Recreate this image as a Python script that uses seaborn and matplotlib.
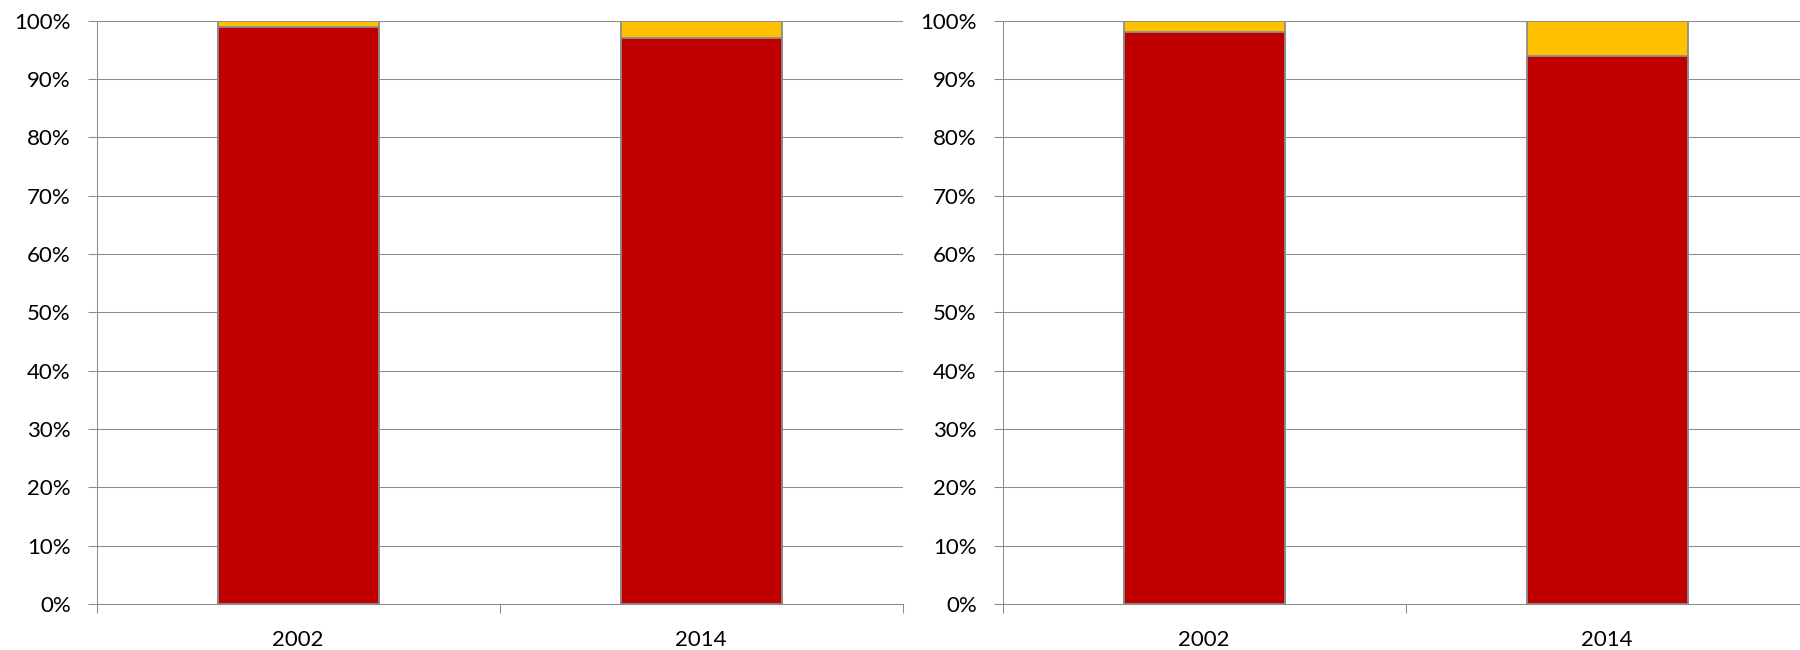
import matplotlib
matplotlib.use("Agg")
import matplotlib.pyplot as plt
import seaborn as sns
import pandas as pd
from matplotlib.ticker import FuncFormatter, FixedLocator

years = ["2002", "2014"]
left_red = [99, 97]
right_red = [98, 94]
total = [100, 100]
yticks = list(range(0, 101, 10))

RED = "#C00000"
YELLOW = "#FFC000"
EDGE = "#8C8C8C"
GRID = "#8C8C8C"

sns.set_theme(style="white")
plt.rcParams["font.family"] = ["Lato", "DejaVu Sans"]

fig = plt.figure(figsize=(18, 6.5), dpi=100)
W, H = 1800, 650
ax_w = 806
positions = [96.7, 1002.7]
top, bottom = 20.7, 604

def draw(ax, red):
    df = pd.DataFrame({"year": years, "total": total, "red": red})
    sns.barplot(data=df, x="year", y="total", color=YELLOW, width=0.4,
                edgecolor=EDGE, linewidth=1.3, saturation=1, ax=ax, zorder=3)
    sns.barplot(data=df, x="year", y="red", color=RED, width=0.4,
                edgecolor=EDGE, linewidth=1.3, saturation=1, ax=ax, zorder=4)
    ax.set_xlim(-0.5, 1.5)
    ax.set_ylim(0, 100)
    ax.yaxis.set_major_locator(FixedLocator(yticks))
    ax.yaxis.set_major_formatter(FuncFormatter(lambda v, p: f"{int(v)}%"))
    ax.grid(axis="y", color=GRID, linewidth=0.75, zorder=0)
    ax.set_axisbelow(True)
    for s in ["top", "right"]:
        ax.spines[s].set_visible(False)
    for s in ["left", "bottom"]:
        ax.spines[s].set_color(GRID)
        ax.spines[s].set_linewidth(0.75)
    ax.set_xlabel("")
    ax.set_ylabel("")
    ax.tick_params(axis="y", which="major", left=True, length=6.5, width=0.75,
                   color=GRID, labelsize=16, pad=12.2, labelcolor="black")
    ax.tick_params(axis="x", which="major", bottom=False, length=0,
                   labelsize=16, pad=19, labelcolor="black")
    ax.set_xticks([-0.5, 0.5, 1.5], minor=True)
    ax.tick_params(axis="x", which="minor", bottom=True, length=6.5, width=0.75,
                   color=GRID)

for x0, red in zip(positions, [left_red, right_red]):
    ax = fig.add_axes([x0 / W, 1 - bottom / H, ax_w / W, (bottom - top) / H])
    draw(ax, red)

fig.savefig("out.png", dpi=100, facecolor="white")
